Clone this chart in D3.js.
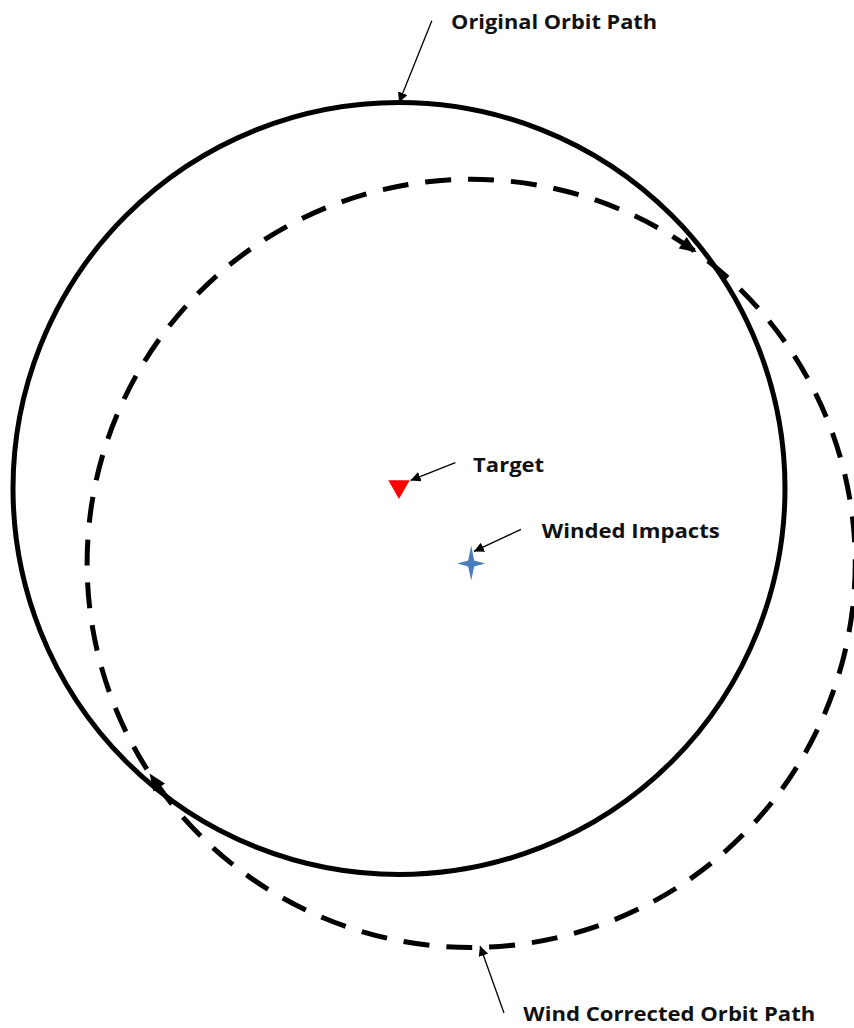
<!DOCTYPE html>
<html>
<head>
<meta charset="utf-8">
<script src="https://cdn.jsdelivr.net/npm/d3@7"></script>
<style>
  html, body { margin: 0; padding: 0; background: #fff; }
  svg { display: block; }
</style>
</head>
<body>
<div id="chart"></div>
<script>
// ---- Data (units: metres, target at origin, +y = north/up) ----
const orbitNames   = ["Original Orbit Path", "Wind Corrected Orbit Path"];
const orbitCenterX = [0, 18.7];
const orbitCenterY = [0, -19.4];
const orbitRadius  = [100, 99.5];
const orbitDashed  = [false, true];

const pointNames = ["Target", "Winded Impacts"];
const pointX     = [0, 18.7];
const pointY     = [0.5, -19.4];

// direction markers on the dashed path (angle in degrees, maths convention)
const markerAngles = [55.4, 214.5];

// annotation labels: [text, label x, label y, arrow from x, from y, to x, to y] in data units
const labelText  = ["Original Orbit Path", "Target", "Winded Impacts", "Wind Corrected Orbit Path"];
const labelX     = [13.5, 19.2, 37.0, 32.2];
const labelY     = [119.0, 4.2, -12.7, -138.0];
const labelWidth = [206, 71, 178, 292];
const arrowFromX = [8.5, 14.6, 31.6, 27.2];
const arrowFromY = [121.2, 6.7, -10.6, -135.9];
const arrowToX   = [0.0, 3.0, 19.4, 21.0];
const arrowToY   = [100.0, 2.1, -16.3, -118.5];

// ---- Layout ----
const W = 854, H = 1028;
const cx = 399, cy = 488.5, pxPerUnit = 3.86;
const x = d3.scaleLinear().domain([0, 100]).range([cx, cx + 100 * pxPerUnit]);
const y = d3.scaleLinear().domain([0, 100]).range([cy, cy - 100 * pxPerUnit]);

const svg = d3.select("#chart").append("svg")
  .attr("width", W).attr("height", H)
  .attr("viewBox", [0, 0, W, H]);

const defs = svg.append("defs");
defs.append("marker")
  .attr("id", "ah")
  .attr("viewBox", "0 0 10 10")
  .attr("refX", 10).attr("refY", 5)
  .attr("markerWidth", 10).attr("markerHeight", 10)
  .attr("markerUnits", "userSpaceOnUse")
  .attr("orient", "auto")
  .append("path").attr("d", "M0,0 L10,5 L0,10 Z").attr("fill", "#000");

// ---- Orbits ----
const orbits = orbitNames.map((n, i) => ({
  name: n, cx: orbitCenterX[i], cy: orbitCenterY[i], r: orbitRadius[i], dashed: orbitDashed[i]
}));
svg.selectAll("circle.orbit").data(orbits).join("circle")
  .attr("class", "orbit")
  .attr("cx", d => x(d.cx))
  .attr("cy", d => y(d.cy))
  .attr("r", d => x(d.r) - x(0))
  .attr("fill", "none")
  .attr("stroke", "#000")
  .attr("stroke-width", 5)
  .attr("stroke-dasharray", d => d.dashed ? "26 17" : null);

// direction markers on dashed path
const dashed = orbits[1];
markerAngles.forEach(a => {
  const t = a * Math.PI / 180;
  const px = x(dashed.cx + dashed.r * Math.cos(t));
  const py = y(dashed.cy + dashed.r * Math.sin(t));
  const ang = Math.atan2(Math.cos(t), Math.sin(t)) * 180 / Math.PI; // screen tangent angle
  svg.append("path")
    .attr("d", "M-8,-7 L9,0 L-8,7 Z")
    .attr("fill", "#000")
    .attr("transform", `translate(${px},${py}) rotate(${ang})`);
});

// ---- Points ----
// Target: red downward triangle
svg.append("path")
  .attr("d", d3.symbol().type(d3.symbolTriangle).size(200)())
  .attr("transform", `translate(${x(pointX[0])},${y(pointY[0])}) rotate(180)`)
  .attr("fill", "#ff0000");

// Winded Impacts: blue 4-point star
const star = "M0,-18 L3,-3 L14,0 L3,3 L0,17 L-3,3 L-14,0 L-3,-3 Z";
svg.append("path")
  .attr("d", star)
  .attr("transform", `translate(${x(pointX[1])},${y(pointY[1])})`)
  .attr("fill", "#4a7ebb");

// ---- Annotations ----
labelText.forEach((t, i) => {
  svg.append("line")
    .attr("x1", x(arrowFromX[i])).attr("y1", y(arrowFromY[i]))
    .attr("x2", x(arrowToX[i])).attr("y2", y(arrowToY[i]))
    .attr("stroke", "#000").attr("stroke-width", 1.3)
    .attr("marker-end", "url(#ah)");
  svg.append("text")
    .attr("x", x(labelX[i])).attr("y", y(labelY[i]))
    .attr("font-family", "'Open Sans', Lato, sans-serif")
    .attr("font-weight", "bold")
    .attr("font-size", 20)
    .attr("textLength", labelWidth[i])
    .attr("lengthAdjust", "spacingAndGlyphs")
    .attr("fill", "#111")
    .text(t);
});
</script>
</body>
</html>
